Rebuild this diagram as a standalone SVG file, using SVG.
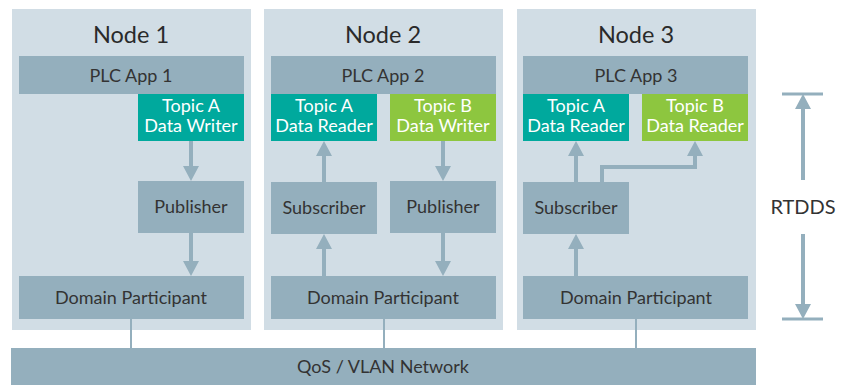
<svg xmlns="http://www.w3.org/2000/svg" width="848" height="385" viewBox="0 0 848 385">
<style>
.panel{fill:#d1dde5}
.box{fill:#94afbd}
.teal{fill:#00a99d}
.green{fill:#8dc63f}
text{font-family:Lato,"Open Sans",sans-serif;text-anchor:middle}
.t{font-size:18px;fill:#333}
.w{font-size:18px;fill:#fff}
.title{font-size:23.5px;fill:#2a2a2a}
.ln{stroke:#94afbd;fill:none}
.ar{stroke:#94afbd;stroke-width:4;fill:none}
</style>
<defs>
<marker id="ah" viewBox="0 0 15 16" refX="5" refY="8" markerWidth="15" markerHeight="16" markerUnits="userSpaceOnUse" orient="auto">
<path d="M0,0 L15,8 L0,16 Z" fill="#94afbd"/>
</marker>
</defs>
<g id="network"><rect x="11" y="348" width="745" height="37" class="box"/><text x="383" y="373" class="t">QoS / VLAN Network</text></g>
<g id="node1">
<rect x="12" y="9" width="239" height="321" class="panel"/>
<text x="131" y="43" class="title">Node 1</text>
<rect x="19" y="56" width="225" height="38" class="box"/><text x="131" y="82" class="t">PLC App 1</text>
<rect x="138" y="94" width="106" height="47" class="teal"/><text x="191" y="112" class="w">Topic A</text><text x="191" y="132" class="w">Data Writer</text>
<rect x="138" y="181" width="106" height="52" class="box"/><text x="191" y="213" class="t">Publisher</text>
<rect x="19" y="276" width="225" height="43" class="box"/><text x="131" y="304" class="t">Domain Participant</text>
</g>
<g id="node2">
<rect x="264" y="9" width="239" height="321" class="panel"/>
<text x="383" y="43" class="title">Node 2</text>
<rect x="271" y="56" width="225" height="38" class="box"/><text x="383" y="82" class="t">PLC App 2</text>
<rect x="271" y="94" width="106" height="47" class="teal"/><text x="324" y="112" class="w">Topic A</text><text x="324" y="132" class="w">Data Reader</text>
<rect x="390" y="94" width="106" height="47" class="green"/><text x="443" y="112" class="w">Topic B</text><text x="443" y="132" class="w">Data Writer</text>
<rect x="271" y="182" width="106" height="52" class="box"/><text x="324" y="214" class="t">Subscriber</text>
<rect x="390" y="181" width="106" height="52" class="box"/><text x="443" y="213" class="t">Publisher</text>
<rect x="271" y="276" width="225" height="43" class="box"/><text x="383" y="304" class="t">Domain Participant</text>
</g>
<g id="node3">
<rect x="517" y="9" width="239" height="321" class="panel"/>
<text x="636" y="43" class="title">Node 3</text>
<rect x="523" y="56" width="225" height="38" class="box"/><text x="636" y="82" class="t">PLC App 3</text>
<rect x="523" y="94" width="106" height="47" class="teal"/><text x="576" y="112" class="w">Topic A</text><text x="576" y="132" class="w">Data Reader</text>
<rect x="642" y="94" width="106" height="47" class="green"/><text x="695" y="112" class="w">Topic B</text><text x="695" y="132" class="w">Data Reader</text>
<rect x="523" y="182" width="106" height="52" class="box"/><text x="576" y="214" class="t">Subscriber</text>
<rect x="523" y="276" width="225" height="43" class="box"/><text x="636" y="304" class="t">Domain Participant</text>
</g>
<g id="rtdds">
<text x="803" y="214" class="t" style="font-size:20px">RTDDS</text>
</g>
<g id="connectors">
<path class="ar" d="M191,141 V171" marker-end="url(#ah)"/>
<path class="ar" d="M191,233 V266" marker-end="url(#ah)"/>
<path class="ar" d="M324,276 V244" marker-end="url(#ah)"/>
<path class="ar" d="M324,182 V151" marker-end="url(#ah)"/>
<path class="ar" d="M443,141 V171" marker-end="url(#ah)"/>
<path class="ar" d="M443,233 V266" marker-end="url(#ah)"/>
<path class="ar" d="M576,276 V244" marker-end="url(#ah)"/>
<path class="ar" d="M576,182 V151" marker-end="url(#ah)"/>
<path class="ar" d="M602,182 V167 H695 V151" marker-end="url(#ah)"/>
<path class="ln" stroke-width="2" d="M131,319 V348 M384,319 V348 M636,319 V348"/>
<path class="ln" stroke-width="3" d="M782,94 H823 M782,319 H823"/>
<path class="ar" d="M803,180 V104" marker-end="url(#ah)"/>
<path class="ar" d="M803,234 V309" marker-end="url(#ah)"/>
</g>
</svg>
